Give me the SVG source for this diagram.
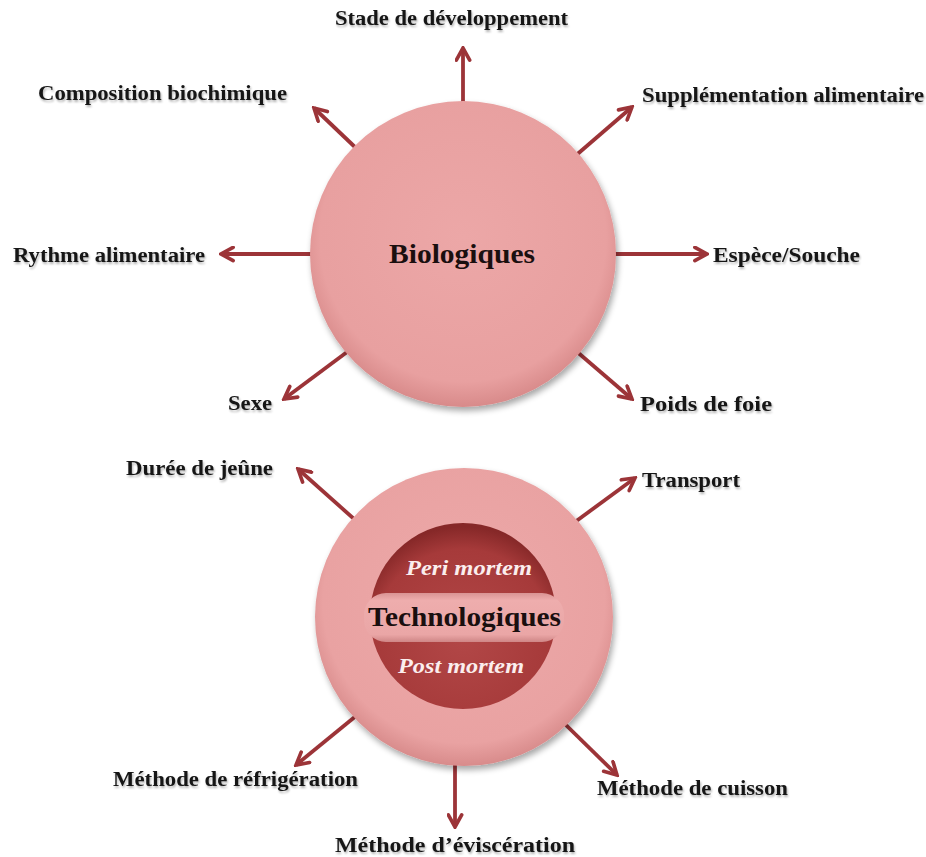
<svg xmlns="http://www.w3.org/2000/svg" width="926" height="857" viewBox="0 0 926 857">
  <defs>
    <style>
      .lbl { font-family: "Liberation Serif", "Times New Roman", serif; font-weight: bold; font-size: 20.5px; fill: #141414; }
      .title { font-family: "Liberation Serif", "Times New Roman", serif; font-weight: bold; font-size: 27px; fill: #1a0f0f; }
      .phase { font-family: "Liberation Serif", "Times New Roman", serif; font-weight: bold; font-style: italic; font-size: 20.5px; fill: #fbeeee; }
      .arrow { stroke: #9c3438; stroke-width: 3.8; fill: none; marker-end: url(#head); }
    </style>
    <marker id="head" viewBox="0 0 14 14" refX="12" refY="7" markerWidth="17" markerHeight="17" markerUnits="userSpaceOnUse" orient="auto">
      <path d="M2,1.5 L12,7 L2,12.5" fill="none" stroke="#9c3438" stroke-width="3" stroke-linecap="round" stroke-linejoin="miter"/>
    </marker>
    <radialGradient id="discTop" cx="0.5" cy="0.45" r="0.55">
      <stop offset="0" stop-color="#eca7a7"/>
      <stop offset="0.85" stop-color="#e8a0a0"/>
      <stop offset="1" stop-color="#d88a8a"/>
    </radialGradient>
    <radialGradient id="discBottom" cx="0.5" cy="0.45" r="0.55">
      <stop offset="0" stop-color="#eda9a9"/>
      <stop offset="0.86" stop-color="#e9a2a2"/>
      <stop offset="1" stop-color="#d88b8b"/>
    </radialGradient>
    <radialGradient id="core" cx="0.5" cy="0.62" r="0.6">
      <stop offset="0" stop-color="#b24747"/>
      <stop offset="0.8" stop-color="#a63a3a"/>
      <stop offset="1" stop-color="#862828"/>
    </radialGradient>
    <linearGradient id="band" x1="0" y1="0" x2="0" y2="1">
      <stop offset="0" stop-color="#d99393"/>
      <stop offset="0.15" stop-color="#eeadad"/>
      <stop offset="0.85" stop-color="#eaa6a6"/>
      <stop offset="1" stop-color="#cf8686"/>
    </linearGradient>
    <filter id="shadow" x="-20%" y="-20%" width="140%" height="140%">
      <feGaussianBlur in="SourceAlpha" stdDeviation="3"/>
      <feOffset dx="2" dy="4" result="b"/>
      <feComponentTransfer><feFuncA type="linear" slope="0.35"/></feComponentTransfer>
      <feMerge><feMergeNode/><feMergeNode in="SourceGraphic"/></feMerge>
    </filter>
    <filter id="txtShadow" x="-5%" y="-20%" width="110%" height="150%">
      <feGaussianBlur in="SourceAlpha" stdDeviation="0.8"/>
      <feOffset dx="1" dy="1.5"/>
      <feComponentTransfer><feFuncA type="linear" slope="0.3"/></feComponentTransfer>
      <feMerge><feMergeNode/><feMergeNode in="SourceGraphic"/></feMerge>
    </filter>
  </defs>

  <rect width="926" height="857" fill="#ffffff"/>

  <!-- connectors radiating from both discs -->
  <g id="connectors">
    <line class="arrow" x1="463" y1="140" x2="463" y2="48"/>
    <line class="arrow" x1="400" y1="190" x2="314" y2="108"/>
    <line class="arrow" x1="530" y1="195" x2="632" y2="107"/>
    <line class="arrow" x1="330" y1="254" x2="221" y2="254"/>
    <line class="arrow" x1="600" y1="254" x2="707" y2="254"/>
    <line class="arrow" x1="390" y1="320" x2="284" y2="399"/>
    <line class="arrow" x1="540" y1="320" x2="632" y2="399"/>

    <line class="arrow" x1="400" y1="560" x2="298" y2="469"/>
    <line class="arrow" x1="530" y1="555" x2="635" y2="478"/>
    <line class="arrow" x1="400" y1="680" x2="296" y2="765"/>
    <line class="arrow" x1="455" y1="720" x2="455" y2="827"/>
    <line class="arrow" x1="520" y1="680" x2="617" y2="775"/>
  </g>

  <!-- upper disc -->
  <g id="biologiques">
    <circle cx="463" cy="254" r="153" fill="url(#discTop)" filter="url(#shadow)"/>
    <text class="title" x="389" y="263" textLength="146" lengthAdjust="spacingAndGlyphs">Biologiques</text>
  </g>

  <!-- lower disc with inner core and band -->
  <g id="technologiques">
    <circle cx="464" cy="617" r="149" fill="url(#discBottom)" filter="url(#shadow)"/>
    <circle cx="463" cy="616" r="93" fill="url(#core)"/>
    <rect x="364" y="593" width="200" height="49" rx="22" fill="url(#band)"/>
    <text class="phase" x="406" y="575" textLength="126" lengthAdjust="spacingAndGlyphs">Peri mortem</text>
    <text class="title" x="368" y="626" textLength="193" lengthAdjust="spacingAndGlyphs">Technologiques</text>
    <text class="phase" x="398" y="673" textLength="126" lengthAdjust="spacingAndGlyphs">Post mortem</text>
  </g>

  <!-- factor labels -->
  <g id="stade" filter="url(#txtShadow)"><text class="lbl" x="335" y="25" textLength="233" lengthAdjust="spacingAndGlyphs">Stade de développement</text></g>
  <g id="composition" filter="url(#txtShadow)"><text class="lbl" x="38" y="100" textLength="249" lengthAdjust="spacingAndGlyphs">Composition biochimique</text></g>
  <g id="supplementation" filter="url(#txtShadow)"><text class="lbl" x="642" y="102" textLength="282" lengthAdjust="spacingAndGlyphs">Supplémentation alimentaire</text></g>
  <g id="rythme" filter="url(#txtShadow)"><text class="lbl" x="13" y="262" textLength="192" lengthAdjust="spacingAndGlyphs">Rythme alimentaire</text></g>
  <g id="espece" filter="url(#txtShadow)"><text class="lbl" x="713" y="262" textLength="147" lengthAdjust="spacingAndGlyphs">Espèce/Souche</text></g>
  <g id="sexe" filter="url(#txtShadow)"><text class="lbl" x="228" y="410" textLength="44" lengthAdjust="spacingAndGlyphs">Sexe</text></g>
  <g id="poids" filter="url(#txtShadow)"><text class="lbl" x="640" y="411" textLength="132" lengthAdjust="spacingAndGlyphs">Poids de foie</text></g>
  <g id="duree" filter="url(#txtShadow)"><text class="lbl" x="126" y="475" textLength="147" lengthAdjust="spacingAndGlyphs">Durée de jeûne</text></g>
  <g id="transport" filter="url(#txtShadow)"><text class="lbl" x="642" y="487" textLength="98" lengthAdjust="spacingAndGlyphs">Transport</text></g>
  <g id="refrigeration" filter="url(#txtShadow)"><text class="lbl" x="113" y="786" textLength="245" lengthAdjust="spacingAndGlyphs">Méthode de réfrigération</text></g>
  <g id="cuisson" filter="url(#txtShadow)"><text class="lbl" x="597" y="795" textLength="191" lengthAdjust="spacingAndGlyphs">Méthode de cuisson</text></g>
  <g id="evisceration" filter="url(#txtShadow)"><text class="lbl" x="335" y="852" textLength="240" lengthAdjust="spacingAndGlyphs">Méthode d’éviscération</text></g>
</svg>
